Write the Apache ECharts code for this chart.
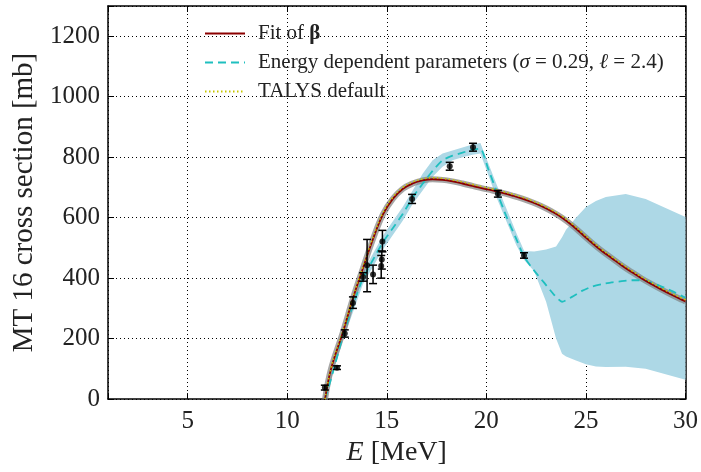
<!DOCTYPE html>
<html>
<head>
<meta charset="utf-8">
<script src="https://cdn.jsdelivr.net/npm/echarts@6/dist/echarts.min.js"></script>
<style>
html, body { margin: 0; padding: 0; background: #fff; }
#chart { width: 701px; height: 472px; }
</style>
</head>
<body>
<div id="chart"></div>
<script>
// fit of beta (with its grey uncertainty halo) and TALYS default on the same grid
const fitX = [11.9, 12.2, 12.8, 13.3, 13.8, 14.3, 14.8, 15.3, 15.8, 16.3, 16.8, 17.3, 17.8, 18.3, 18.8, 19.3, 19.8, 20.3, 20.8, 21.3, 21.8, 22.3, 22.8, 23.3, 23.8, 24.3, 24.8, 25.3, 25.8, 26.3, 26.8, 27.3, 27.8, 28.3, 28.8, 29.3, 29.8, 30];
const fitY = [0, 100, 222, 333, 432, 528, 610, 662, 695, 713, 723, 727, 725, 720, 713, 705, 697, 690, 682, 673, 663, 651, 637, 620, 600, 575, 546, 517, 490, 466, 442, 420, 399, 380, 362, 345, 329, 323];
const talysY = [0, 104, 227, 338, 437, 533, 615, 667, 700, 718, 728, 732, 730, 725, 718, 710, 702, 695, 687, 678, 668, 656, 642, 625, 605, 580, 551, 522, 495, 471, 447, 425, 404, 385, 367, 350, 334, 328];

// energy dependent parameters (dashed) and its band
const edpX = [11.9, 12.3, 12.8, 13.3, 13.8, 14.3, 14.8, 15.3, 15.8, 16.3, 16.8, 17.3, 17.8, 18.3, 18.8, 19.3, 19.7, 20.1, 20.5, 21.0, 21.5, 21.9, 22.4, 22.9, 23.4, 23.8, 24.3, 24.8, 25.3, 25.8, 26.3, 26.8, 27.3, 27.8, 28.3, 28.8, 29.3, 30];
const edpY = [0, 90, 210, 310, 399, 460, 518, 565, 612, 667, 712, 755, 790, 805, 815, 825, 828, 760, 690, 605, 530, 470, 425, 385, 345, 322, 338, 358, 372, 380, 386, 390, 393, 393, 385, 372, 358, 335];
const bandX = [11.9, 12.8, 13.8, 14.8, 15.8, 16.3, 16.8, 17.3, 17.8, 18.3, 18.8, 19.3, 19.7, 20.5, 21.5, 21.9, 22.4, 23.0, 23.5, 23.8, 24.0, 24.5, 25.0, 25.5, 26.0, 27.0, 28.0, 29.0, 30];
const bandHi = [10, 228, 420, 540, 635, 690, 745, 790, 812, 822, 832, 842, 847, 712, 550, 490, 488, 495, 505, 535, 560, 600, 635, 655, 668, 678, 662, 632, 602];
const bandLo = [0, 195, 380, 495, 590, 645, 690, 735, 768, 790, 800, 808, 812, 668, 510, 460, 423, 322, 200, 150, 141, 128, 115, 108, 106, 107, 100, 82, 64];

// measured points with error bars
const expX = [11.89, 12.5, 12.89, 13.3, 13.81, 14.01, 14.31, 14.72, 14.75, 14.78, 16.27, 18.16, 19.33, 20.58, 21.89];
const expY = [38, 104, 217, 318, 404, 443, 412, 440, 462, 521, 662, 770, 833, 679, 475];
const expLo = [30, 98, 205, 300, 390, 355, 382, 400, 430, 487, 647, 757, 820, 668, 466];
const expHi = [46, 110, 229, 338, 418, 528, 443, 475, 490, 558, 677, 783, 846, 690, 484];

const xTicks = [5, 10, 15, 20, 25, 30];
const yTicks = [0, 200, 400, 600, 800, 1000, 1200];

const serif = 'Liberation Serif';
const chart = echarts.init(document.getElementById('chart'));

const pair = (xs, ys) => xs.map((x, i) => [x, ys[i]]);

const boxAxis = {
  axisLine: { show: true, onZero: false, lineStyle: { color: '#000', width: 1.5 } },
  axisTick: { show: true, inside: true, length: 6, lineStyle: { color: '#000', width: 1 } },
  splitLine: { show: false },
};

chart.setOption({
  animation: false,
  grid: { left: 108, right: 15, top: 6, bottom: 71 },
  legend: {
    left: 199,
    top: 18,
    orient: 'vertical',
    itemWidth: 40,
    itemHeight: 14,
    itemGap: 8,
    selectedMode: false,
    itemStyle: { opacity: 0 },
    data: ['fit', 'edp', 'talys'],
    formatter: function (name) {
      if (name === 'fit') return 'Fit of {b|β}';
      if (name === 'edp') return 'Energy dependent parameters ({i|σ} = 0.29, {i|ℓ} = 2.4)';
      return 'TALYS default';
    },
    textStyle: {
      fontFamily: serif,
      fontSize: 21,
      lineHeight: 21,
      color: '#222',
      padding: [0, 0, 0, 8],
      rich: {
        b: { fontFamily: serif, fontSize: 21, fontWeight: 'bold', color: '#222' },
        i: { fontFamily: serif, fontSize: 21, fontStyle: 'italic', color: '#222' },
      },
    },
  },
  xAxis: [
    {
      type: 'value',
      min: 1,
      max: 30,
      splitNumber: 6,
      minInterval: 5,
      maxInterval: 5,
      name: '{i|E} [MeV]',
      nameLocation: 'middle',
      nameGap: 38,
      nameTextStyle: {
        fontFamily: serif,
        fontSize: 28,
        color: '#222',
        rich: { i: { fontFamily: serif, fontSize: 28, fontStyle: 'italic', color: '#222' } },
      },
      axisLine: { show: true, onZero: false, lineStyle: { color: '#000', width: 1.5 } },
      axisTick: { show: true, inside: true, length: 6, lineStyle: { color: '#000' } },
      axisLabel: {
        margin: 10,
        fontFamily: serif,
        fontSize: 25,
        color: '#222',
        formatter: (v) => (xTicks.includes(v) ? String(v) : ''),
      },
      splitLine: { show: true, lineStyle: { color: '#000', type: [1, 3], width: 1 } },
    },
    Object.assign({ type: 'value', min: 1, max: 30, splitNumber: 6, minInterval: 5, maxInterval: 5, position: 'top', axisLabel: { show: false } }, boxAxis),
  ],
  yAxis: [
    {
      type: 'value',
      min: 0,
      max: 1300,
      interval: 200,
      name: 'MT 16 cross section [mb]',
      nameLocation: 'middle',
      nameGap: 69,
      nameTextStyle: { fontFamily: serif, fontSize: 29, color: '#222' },
      axisLine: { show: true, onZero: false, lineStyle: { color: '#000', width: 1.5 } },
      axisTick: { show: true, inside: true, length: 6, lineStyle: { color: '#000' } },
      axisLabel: {
        margin: 8,
        fontFamily: serif,
        fontSize: 25,
        color: '#222',
        formatter: (v) => (yTicks.includes(v) ? String(v) : ''),
      },
      splitLine: { show: true, lineStyle: { color: '#000', type: [1, 3], width: 1 } },
    },
    Object.assign({ type: 'value', min: 0, max: 1300, interval: 200, position: 'right', axisLabel: { show: false } }, boxAxis),
  ],
  series: [
    {
      name: 'band',
      type: 'custom',
      z: 1,
      silent: true,
      clip: true,
      data: [[bandX[0], bandLo[0]]],
      renderItem: function (params, api) {
        const pts = [];
        for (let i = 0; i < bandX.length; i++) pts.push(api.coord([bandX[i], bandHi[i]]));
        for (let i = bandX.length - 1; i >= 0; i--) pts.push(api.coord([bandX[i], bandLo[i]]));
        return { type: 'polygon', shape: { points: pts }, style: { fill: '#add8e6' } };
      },
    },
    {
      name: 'fitHalo',
      type: 'line',
      z: 2,
      silent: true,
      showSymbol: false,
      symbol: 'none',
      smooth: 0.4,
      data: pair(fitX, fitY),
      lineStyle: { color: 'rgba(128,128,128,0.7)', width: 6 },
    },
    {
      name: 'edp',
      type: 'line',
      z: 3,
      symbol: 'none',
      smooth: 0.2,
      data: pair(edpX, edpY),
      itemStyle: { color: '#1fbfbf' },
      lineStyle: { color: '#1fbfbf', width: 1.8, type: [8, 5] },
    },
    {
      name: 'fit',
      type: 'line',
      z: 4,
      symbol: 'none',
      smooth: 0.4,
      data: pair(fitX, fitY),
      itemStyle: { color: '#8b0000' },
      lineStyle: { color: '#8b0000', width: 1.8 },
    },
    {
      name: 'talys',
      type: 'line',
      z: 5,
      symbol: 'none',
      smooth: 0.4,
      data: pair(fitX, talysY),
      itemStyle: { color: '#bfbf00' },
      lineStyle: { color: '#c8c800', width: 1.5, type: [1.5, 2.5] },
    },
    {
      name: 'errors',
      type: 'custom',
      z: 6,
      silent: true,
      data: expX.map((x, i) => [x, expY[i], expLo[i], expHi[i]]),
      encode: { x: 0, y: 1 },
      renderItem: function (params, api) {
        const x = api.value(0);
        const lo = api.coord([x, api.value(2)]);
        const hi = api.coord([x, api.value(3)]);
        const w = 4;
        const st = { stroke: '#000', lineWidth: 1.5 };
        return {
          type: 'group',
          children: [
            { type: 'line', shape: { x1: lo[0], y1: lo[1], x2: hi[0], y2: hi[1] }, style: st },
            { type: 'line', shape: { x1: lo[0] - w, y1: lo[1], x2: lo[0] + w, y2: lo[1] }, style: st },
            { type: 'line', shape: { x1: hi[0] - w, y1: hi[1], x2: hi[0] + w, y2: hi[1] }, style: st },
          ],
        };
      },
    },
    {
      name: 'points',
      type: 'scatter',
      z: 7,
      symbol: 'circle',
      symbolSize: 6,
      data: pair(expX, expY),
      itemStyle: { color: '#000' },
    },
  ],
});
</script>
</body>
</html>
